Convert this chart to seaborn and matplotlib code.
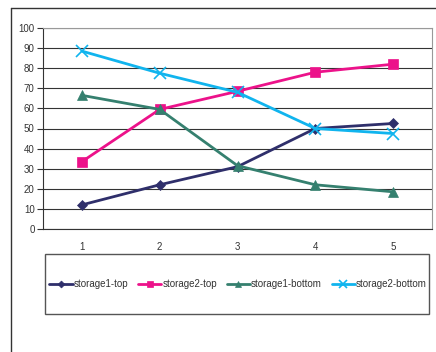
import numpy as np
import pandas as pd
import seaborn as sns
import matplotlib.pyplot as plt
from matplotlib.lines import Line2D
from matplotlib.patches import Rectangle

##
# Data
positions = [1, 2, 3, 4, 5]
storage1_top = [12, 22, 31, 50, 52.5]
storage2_top = [33.5, 59.5, 68.5, 78, 82]
storage1_bottom = [66.5, 59.5, 31.5, 22, 18.5]
storage2_bottom = [88.5, 77.5, 68, 50, 47.5]

series_names = ['storage1-top', 'storage2-top', 'storage1-bottom', 'storage2-bottom']
series_values = [storage1_top, storage2_top, storage1_bottom, storage2_bottom]
colors = ['#2f2f6b', '#ec128a', '#35806f', '#10b4ee']
markers = ['D', 's', '^', 'x']
marker_sizes = [5, 6.5, 6.5, 8]

data = pd.DataFrame({
    'pos': np.tile(np.arange(len(positions)), len(series_names)),
    'value': np.concatenate(series_values),
    'series': np.repeat(series_names, len(positions)),
})

##
sns.set_style('white')
plt.rcParams['font.family'] = ['Liberation Sans', 'DejaVu Sans']

fig = plt.figure(figsize=(4.36, 3.52), dpi=100)
W, H = 436, 352
ax = fig.add_axes([43 / W, 1 - 229 / H, (432 - 43) / W, (229 - 28) / H])

for name, c, m, ms in zip(series_names, colors, markers, marker_sizes):
    sub = data[data.series == name]
    sns.lineplot(x='pos', y='value', data=sub, ax=ax, color=c, marker=m,
                 markersize=ms, linewidth=2, markeredgecolor=c,
                 markeredgewidth=1.2 if m == 'x' else 0.5, label=name, legend=False)

ax.set_xlim(-0.5, len(positions) - 0.5)
ax.set_ylim(0, 100)
ax.set_yticks(range(0, 101, 10))
ax.set_xticks(range(len(positions)))
ax.set_xticklabels([str(p) for p in positions])
ax.set_xticks(np.arange(-0.5, len(positions), 1), minor=True)
ax.tick_params(axis='x', which='major', length=0, pad=9, labelsize=7, labelcolor='#333333')
ax.tick_params(axis='x', which='minor', length=4, width=0.8, color='#333333', direction='out')
ax.tick_params(axis='y', length=4, width=0.8, color='#333333', direction='out', labelsize=7,
               labelcolor='#333333', left=True, pad=2)
ax.yaxis.grid(True, color='#333333', linewidth=0.8)
ax.set_axisbelow(True)
ax.set_xlabel('')
ax.set_ylabel('')
for s in ['top', 'right']:
    ax.spines[s].set_color('#999999')
    ax.spines[s].set_linewidth(0.8)
for s in ['left', 'bottom']:
    ax.spines[s].set_color('#333333')
    ax.spines[s].set_linewidth(0.8)

# outer chart border (left and top visible)
fig.add_artist(Line2D([11 / W, 11 / W], [0, 1 - 8 / H], color='#333333', linewidth=1))
fig.add_artist(Line2D([11 / W, 1], [1 - 8 / H, 1 - 8 / H], color='#333333', linewidth=1))

# legend box
fig.add_artist(Rectangle((45 / W, 1 - 314 / H), (429 - 45) / W, (314 - 254) / H,
                         fill=False, edgecolor='#555555', linewidth=1))
handles, labels = ax.get_legend_handles_labels()
fig.legend(handles, labels, loc='center', bbox_to_anchor=(238 / W, 1 - 284 / H), ncol=4,
           frameon=False, fontsize=7, handlelength=2.4, handletextpad=0.1, columnspacing=1.0,
           labelcolor='#333333', markerscale=0.7)

fig.savefig('out.png', dpi=100)
